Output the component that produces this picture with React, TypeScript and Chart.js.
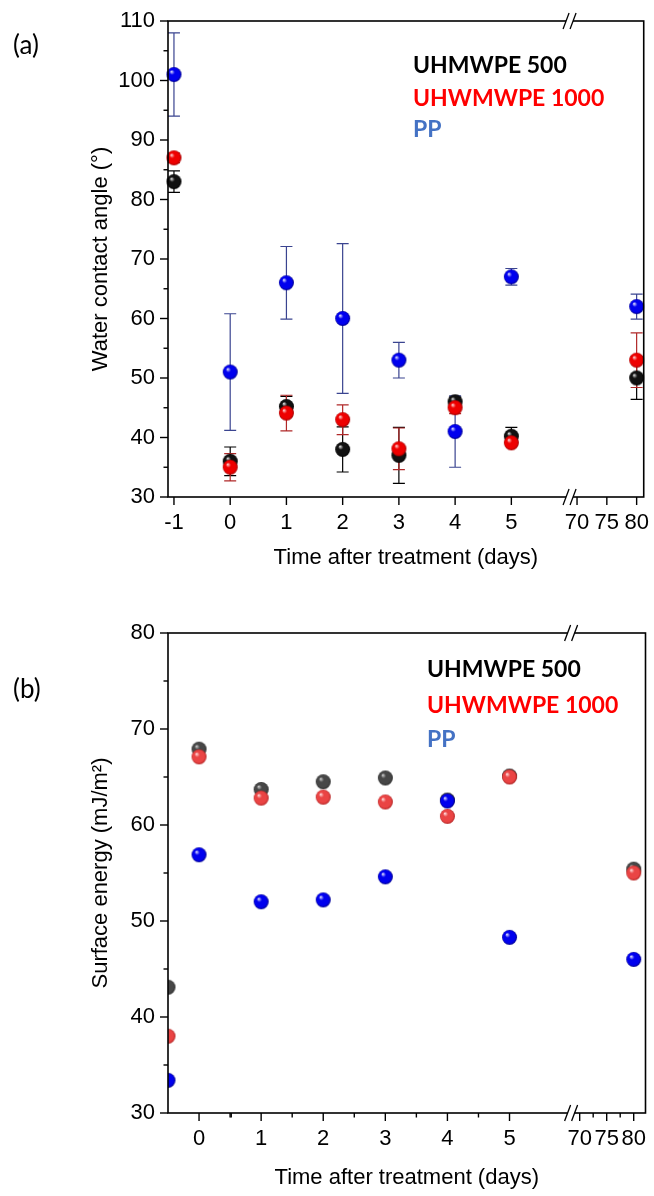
import React, { useEffect, useRef } from 'react';
import { Chart, registerables } from 'chart.js';

Chart.register(...registerables);

// ---------- (a) Water contact angle ----------
const daysA = [-1, 0, 1, 2, 3, 4, 5, 80];
const wca500 = [83, 36, 45.2, 38, 37, 46, 40.2, 50];
const wca500Err = [1.8, 2.4, 1.7, 3.8, 4.7, 0.8, 1.5, 3.6];
const wca1000 = [87, 35, 44.1, 43, 38.1, 45, 39.1, 53];
const wca1000Err = [0.8, 2.3, 3.0, 2.5, 3.5, 1.0, 0.5, 4.6];
const wcaPP = [101, 51, 66, 60, 53, 41, 67, 62];
const wcaPPErr = [7, 9.8, 6.1, 12.6, 3, 6, 1.4, 2.1];

// ---------- (b) Surface energy ----------
const daysB = [-0.5, 0, 1, 2, 3, 4, 5, 80];
const se500 = [43.1, 67.9, 63.7, 64.5, 64.9, 62.6, 65.1, 55.4];
const se1000 = [38.0, 67.1, 62.8, 62.9, 62.4, 60.9, 65.0, 55.0];
const sePP = [33.4, 56.9, 52.0, 52.2, 54.6, 62.5, 48.3, 46.0];

// ---------- ticks / labels ----------
const tickDaysA = [-1, 0, 1, 2, 3, 4, 5, 70, 75, 80];
const minorDaysA: number[] = [];
const tickDaysB = [0, 1, 2, 3, 4, 5, 70, 75, 80];
const minorDaysB = [0.5, 1.5, 2.5, 3.5, 4.5, 5.5, 72.5, 77.5];
const seriesNames = ['UHMWPE 500', 'UHWMWPE 1000', 'PP'];

const FONT = '"Liberation Sans", Arial, sans-serif';

type BrokenAxis = { min: number; max: number; base70: number; perDay: number; breakAt: number };
const axisA: BrokenAxis = { min: -1.106, max: 7.354, base70: 6.168, perDay: 0.106, breakAt: 6.044 };
const axisB: BrokenAxis = { min: -0.5, max: 7.19, base70: 6.13, perDay: 0.087, breakAt: 6.0 };

const mapper = (ax: BrokenAxis) => (d: number) => (d <= 5 ? d : ax.base70 + (d - 70) * ax.perDay);

function sphere(r: number, hi: string, base: string, edge: string) {
  const c = document.createElement('canvas');
  const s = Math.ceil(r * 2) + 2;
  c.width = s;
  c.height = s;
  const ctx = c.getContext('2d')!;
  const cx = s / 2, cy = s / 2;
  const g = ctx.createRadialGradient(cx - r * 0.35, cy - r * 0.4, r * 0.05, cx, cy, r);
  g.addColorStop(0, hi);
  g.addColorStop(0.3, base);
  g.addColorStop(0.8, base);
  g.addColorStop(1, edge);
  ctx.fillStyle = g;
  ctx.beginPath();
  ctx.arc(cx, cy, r, 0, Math.PI * 2);
  ctx.fill();
  return c;
}

const errorBarPlugin = {
  id: 'errorBars',
  beforeDatasetsDraw(chart: any) {
    const { ctx } = chart;
    const xs = chart.scales.x, ys = chart.scales.y;
    chart.data.datasets.forEach((ds: any) => {
      const errs: number[] | undefined = ds.errors;
      if (!errs) return;
      ctx.save();
      ctx.strokeStyle = ds.errorColor;
      ctx.lineWidth = 1.2;
      ds.data.forEach((p: any, j: number) => {
        const e = errs[j];
        if (!e) return;
        const px = xs.getPixelForValue(p.x);
        const t = ys.getPixelForValue(p.y + e);
        const b = ys.getPixelForValue(p.y - e);
        ctx.beginPath();
        ctx.moveTo(px, t); ctx.lineTo(px, b);
        ctx.moveTo(px - 6, t); ctx.lineTo(px + 6, t);
        ctx.moveTo(px - 6, b); ctx.lineTo(px + 6, b);
        ctx.stroke();
      });
      ctx.restore();
    });
  },
};

const framePlugin = {
  id: 'frame',
  afterDatasetsDraw(chart: any, _args: any, opts: any) {
    const { ctx, chartArea: a } = chart;
    const xs = chart.scales.x, ys = chart.scales.y;
    const mapX = opts.mapX as (d: number) => number;
    ctx.save();
    ctx.strokeStyle = '#000';
    ctx.lineWidth = 1.6;
    ctx.strokeRect(a.left, a.top, a.right - a.left, a.bottom - a.top);
    ctx.lineWidth = 1.4;
    const line = (x1: number, y1: number, x2: number, y2: number) => {
      ctx.beginPath(); ctx.moveTo(x1, y1); ctx.lineTo(x2, y2); ctx.stroke();
    };
    for (let v = ys.min; v <= ys.max + 1e-6; v += 5) {
      const py = ys.getPixelForValue(v);
      const len = Math.round(v) % 10 === 0 ? 8 : 4.5;
      line(a.left - len, py, a.left, py);
    }
    (opts.major as number[]).forEach((d) => {
      const px = xs.getPixelForValue(mapX(d));
      line(px, a.bottom, px, a.bottom + 8);
    });
    (opts.minor as number[]).forEach((d) => {
      const px = xs.getPixelForValue(mapX(d));
      line(px, a.bottom, px, a.bottom + 4.5);
    });
    const bx = xs.getPixelForValue(opts.breakAt);
    for (const yy of [a.top, a.bottom]) {
      ctx.fillStyle = '#fff';
      ctx.fillRect(bx - 4, yy - 2, 7, 4);
      ctx.lineWidth = 1.3;
      line(bx - 7, yy + 8, bx - 1, yy - 8);
      line(bx, yy + 8, bx + 6, yy - 8);
    }
    ctx.restore();
  },
};

type Cfg = {
  days: number[];
  values: number[][];
  errors?: number[][];
  styles: HTMLCanvasElement[];
  errColors: string[];
  axis: BrokenAxis;
  yMin: number;
  yMax: number;
  yTitle: string;
  major: number[];
  minor: number[];
  xHeight: number;
  xTitlePad: number;
  padTop: number;
  padRight: number;
  clip: any;
};

function makeConfig(c: Cfg): any {
  const mapX = mapper(c.axis);
  const order = [3, 2, 1];
  const datasets = c.values.map((vals, i) => ({
    label: seriesNames[i],
    data: vals.map((v, j) => ({ x: mapX(c.days[j]), y: v })),
    errors: c.errors ? c.errors[i] : undefined,
    errorColor: c.errColors[i],
    pointStyle: c.styles[i],
    pointRadius: 7.5,
    showLine: false,
    order: order[i],
    clip: c.clip,
  }));
  const tickFont = { family: FONT, size: 22 };
  return {
    type: 'scatter',
    data: { datasets },
    plugins: [errorBarPlugin, framePlugin],
    options: {
      animation: false,
      responsive: false,
      events: [],
      layout: { padding: { top: c.padTop, right: c.padRight, left: 0, bottom: 0 } },
      plugins: {
        legend: { display: false },
        tooltip: { enabled: false },
        frame: { mapX, major: c.major, minor: c.minor, breakAt: c.axis.breakAt },
      },
      scales: {
        x: {
          type: 'linear',
          min: c.axis.min,
          max: c.axis.max,
          afterBuildTicks: (s: any) => {
            s.ticks = c.major.map((d) => ({ value: mapX(d) }));
          },
          afterFit: (s: any) => {
            s.height = c.xHeight;
          },
          grid: { display: false, drawTicks: true, tickLength: 8 },
          border: { display: false },
          ticks: {
            autoSkip: false,
            maxRotation: 0,
            minRotation: 0,
            padding: 5,
            color: '#000',
            font: tickFont,
            callback: (_v: any, i: number) => String(c.major[i]),
          },
          title: {
            display: true,
            text: 'Time after treatment (days)',
            color: '#000',
            font: { family: FONT, size: 22 },
            padding: { top: 0, bottom: c.xTitlePad },
          },
        },
        y: {
          type: 'linear',
          min: c.yMin,
          max: c.yMax,
          afterFit: (s: any) => {
            s.width = 168;
          },
          grid: { display: false, drawTicks: true, tickLength: 8 },
          border: { display: false },
          ticks: { stepSize: 10, autoSkip: false, padding: 5, color: '#000', font: tickFont },
          title: {
            display: true,
            text: c.yTitle,
            color: '#000',
            font: { family: FONT, size: 22 },
            padding: { top: 88, bottom: 0 },
          },
        },
      },
    },
  };
}

export default function App() {
  const refA = useRef<HTMLCanvasElement>(null);
  const refB = useRef<HTMLCanvasElement>(null);

  useEffect(() => {
    const stylesA = [
      sphere(7.5, '#d8d8d8', '#111111', '#000000'),
      sphere(7.5, '#ffd0d0', '#ee0000', '#a00000'),
      sphere(7.5, '#d8d8ff', '#0000ee', '#00008a'),
    ];
    const stylesB = [
      sphere(7.5, '#c8c8c8', '#474747', '#2a2a2a'),
      sphere(7.5, '#ffd8d8', '#ea4444', '#b02020'),
      sphere(7.5, '#d8d8ff', '#0000ee', '#00008a'),
    ];
    const chartA = new Chart(
      refA.current!,
      makeConfig({
        days: daysA,
        values: [wca500, wca1000, wcaPP],
        errors: [wca500Err, wca1000Err, wcaPPErr],
        styles: stylesA,
        errColors: ['#000000', '#b02828', '#3a4490'],
        axis: axisA,
        yMin: 30,
        yMax: 110,
        yTitle: 'Water contact angle (°)',
        major: tickDaysA,
        minor: minorDaysA,
        xHeight: 93,
        xTitlePad: 19,
        padTop: 21,
        padRight: 8,
        clip: false,
      })
    );
    const chartB = new Chart(
      refB.current!,
      makeConfig({
        days: daysB,
        values: [se500, se1000, sePP],
        styles: stylesB,
        errColors: ['#000', '#000', '#000'],
        axis: axisB,
        yMin: 30,
        yMax: 80,
        yTitle: 'Surface energy (mJ/m²)',
        major: tickDaysB,
        minor: minorDaysB,
        xHeight: 83,
        xTitlePad: 5,
        padTop: 43,
        padRight: 5,
        clip: { left: 0, top: false, right: false, bottom: false },
      })
    );
    return () => {
      chartA.destroy();
      chartB.destroy();
    };
  }, []);

  const legendStyle = (left: number, top: number, color: string): React.CSSProperties => ({
    position: 'absolute',
    left,
    top,
    color,
    font: 'bold 23px Lato, "Open Sans", sans-serif',
    lineHeight: '1',
    whiteSpace: 'nowrap',
  });
  const panelStyle = (top: number): React.CSSProperties => ({
    position: 'absolute',
    left: 13,
    top,
    color: '#000',
    font: '26px Lato, "Open Sans", sans-serif',
    lineHeight: '1',
  });
  const colors = ['#000000', '#ff0000', '#4472c4'];

  return (
    <div style={{ position: 'absolute', left: 0, top: 0, width: 654, height: 1196, background: '#fff' }}>
      <canvas ref={refA} width={654} height={590} style={{ position: 'absolute', left: 0, top: 0 }} />
      <canvas ref={refB} width={654} height={606} style={{ position: 'absolute', left: 0, top: 590 }} />
      <div style={panelStyle(31)}>(a)</div>
      <div style={panelStyle(675)}>(b)</div>
      {seriesNames.map((n, i) => (
        <div key={'a' + i} style={legendStyle(413, [53, 86, 117][i], colors[i])}>{n}</div>
      ))}
      {seriesNames.map((n, i) => (
        <div key={'b' + i} style={legendStyle(427, [657, 693, 727][i], colors[i])}>{n}</div>
      ))}
    </div>
  );
}
